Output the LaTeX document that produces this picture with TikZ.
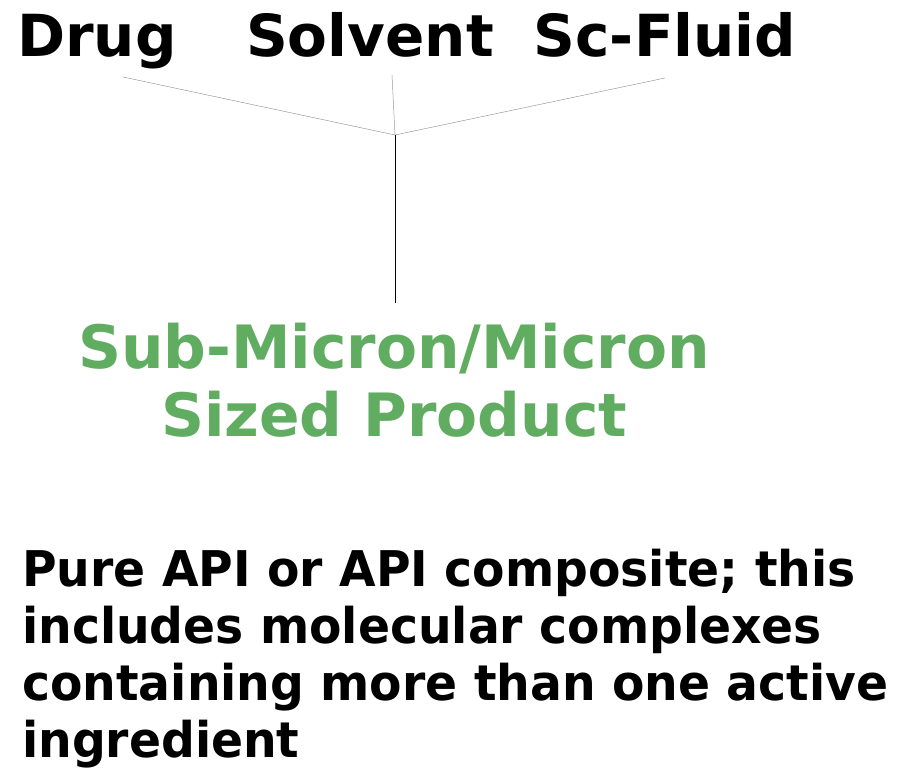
\documentclass[tikz,border=0pt]{standalone}
\usepackage{fontspec}
\setmainfont{DejaVu Sans}
\newfontfamily\notefont[FakeStretch=0.96]{DejaVu Sans}
\definecolor{prodgreen}{RGB}{96,172,96}
\definecolor{linkgray}{RGB}{150,150,150}
\tikzset{
  label/.style={font=\fontsize{49.5}{58}\selectfont\bfseries, inner sep=0pt},
  link/.style={draw=linkgray, line width=0.4pt},
}

\begin{document}
\begin{tikzpicture}[x=0.03cm, y=-0.03cm]
                \useasboundingbox (0,0) rectangle (913,768);
                % inputs
                \node [label, anchor=base] (drug) at (97,57) {Drug};
                \node [label, anchor=base] (solvent) at (370,57) {Solvent};
                \node [label, anchor=base] (fluid) at (665,57) {Sc-Fluid};
                \coordinate (drugend) at (123,77);
                \coordinate (solventend) at (392,75);
                \coordinate (fluidend) at (665,78);
                \coordinate (join) at (395,135);
                \coordinate (drop) at (395,303);

                % product
                \node [label, font=\fontsize{51}{58.5}\selectfont\bfseries, text=prodgreen, align=center, anchor=base] (product) at (394,437) {Sub-Micron/Micron\\Sized Product};
                \node [label, font=\notefont\fontsize{42}{48.4}\selectfont\bfseries, align=left, anchor=base west] (note) at (22,757)
                  {Pure API or API composite; this\\includes molecular complexes\\containing more than one active\\ingredient};

                \draw [link] (drugend) -- (join);
                \draw [link] (solventend) -- (join);
                \draw [link] (fluidend) -- (join);
                \draw [line width=0.4pt] (join) -- (drop);
            \end{tikzpicture}
\end{document}
